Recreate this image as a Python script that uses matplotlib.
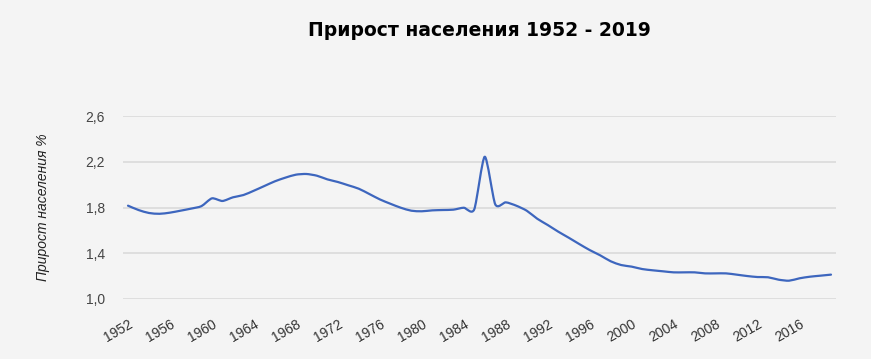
import matplotlib
matplotlib.use("Agg")
import matplotlib.pyplot as plt
from matplotlib.path import Path
from matplotlib.patches import PathPatch
import numpy as np

years = list(range(1952, 2020))
growth = [1.816, 1.778, 1.752, 1.745, 1.755, 1.772, 1.79, 1.812, 1.880, 1.857,
          1.889, 1.909, 1.947, 1.988, 2.029, 2.061, 2.087, 2.093, 2.078, 2.046,
          2.023, 1.994, 1.964, 1.918, 1.871, 1.833, 1.798, 1.772, 1.767, 1.775,
          1.778, 1.781, 1.798, 1.784, 2.244, 1.828, 1.845, 1.816, 1.772, 1.702,
          1.647, 1.589, 1.536, 1.481, 1.428, 1.382, 1.33, 1.297, 1.283, 1.262,
          1.251, 1.242, 1.233, 1.233, 1.233, 1.224, 1.224, 1.224, 1.213, 1.201,
          1.192, 1.19, 1.169, 1.16, 1.181, 1.195, 1.204, 1.213]
xticks = list(range(1952, 2017, 4))
yticks = [1.0, 1.4, 1.8, 2.2, 2.6]
ytick_labels = ["1,0", "1,4", "1,8", "2,2", "2,6"]
title = "Прирост населения 1952 - 2019"
ylabel = "Прирост населения %"

bg = "#f4f4f4"
fig = plt.figure(figsize=(8.71, 3.59), dpi=100, facecolor=bg)
ax = fig.add_axes([123/871, 1-299/359, (836-123)/871, (299-116)/359], facecolor=bg)

# smooth curve through the data points (cubic Bezier, Catmull-Rom style)
x = np.array(years, dtype=float)
y = np.array(growth, dtype=float)
k = 0.12
verts = [(x[0], y[0])]
codes = [Path.MOVETO]
n = len(x)
for i in range(n - 1):
    x0, y0 = (x[i-1], y[i-1]) if i > 0 else (x[i], y[i])
    x3, y3 = (x[i+2], y[i+2]) if i + 2 < n else (x[i+1], y[i+1])
    c1 = (x[i] + (x[i+1] - x0) * k, y[i] + (y[i+1] - y0) * k)
    c2 = (x[i+1] - (x3 - x[i]) * k, y[i+1] - (y3 - y[i]) * k)
    verts += [c1, c2, (x[i+1], y[i+1])]
    codes += [Path.CURVE4] * 3
ax.add_patch(PathPatch(Path(verts, codes), facecolor="none", edgecolor="#3d66be",
                       lw=1.6, joinstyle="round", capstyle="round"))

ax.set_xlim(1952 - 5/10.49, 2019 + 5/10.49)
ax.set_ylim(1.0, 2.6)
ax.set_yticks(yticks)
ax.set_yticklabels(ytick_labels)
ax.set_xticks(xticks)
ax.set_xticklabels([str(v) for v in xticks], rotation=30, ha="right", rotation_mode="anchor")
for s in ax.spines.values():
    s.set_visible(False)
ax.grid(axis="y", color="#dadada", lw=1.2)
ax.set_axisbelow(True)
ax.tick_params(length=0, labelsize=10, labelcolor="#333333")
ax.tick_params(axis="y", pad=13, labelcolor="#444444")
ax.tick_params(axis="x", pad=13)
for lab in ax.get_xticklabels() + ax.get_yticklabels():
    lab.set_fontfamily("Liberation Sans")

fig.text(43/871, 1-207/359, ylabel, rotation=90, ha="center", va="center",
         fontsize=10, style="italic", color="#222222", family="Liberation Sans")
fig.text(479/871, 1-30/359, title, ha="center", va="center", fontsize=13.5,
         fontweight="bold", color="black", family="DejaVu Sans")

fig.savefig("out.png", dpi=100, facecolor=bg)
